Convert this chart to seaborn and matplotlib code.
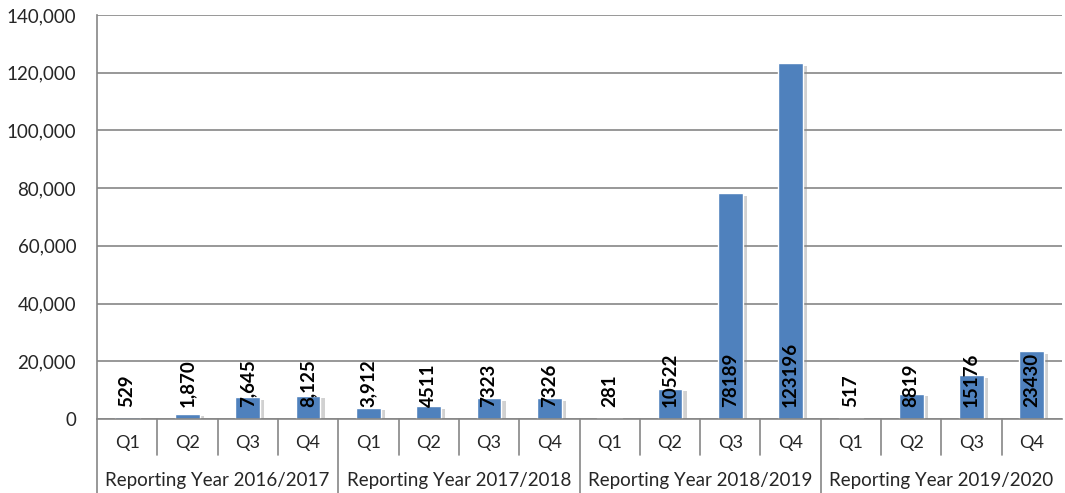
import matplotlib
matplotlib.use("Agg")
import matplotlib.pyplot as plt
import matplotlib.patheffects as pe
import matplotlib.transforms as mtrans
import seaborn as sns
import pandas as pd

# Data
years = ["Reporting Year 2016/2017", "Reporting Year 2017/2018",
         "Reporting Year 2018/2019", "Reporting Year 2019/2020"]
quarters = ["Q1", "Q2", "Q3", "Q4"]
values = [529, 1870, 7645, 8125,
          3912, 4511, 7323, 7326,
          281, 10522, 78189, 123196,
          517, 8819, 15176, 23430]
value_labels = ["529", "1,870", "7,645", "8,125",
                "3,912", "4511", "7323", "7326",
                "281", "10522", "78189", "123196",
                "517", "8819", "15176", "23430"]
y_ticks = [0, 20000, 40000, 60000, 80000, 100000, 120000, 140000]

df = pd.DataFrame({
    "period": [f"{y} {q}" for y in years for q in quarters],
    "value": values,
})

sns.set_style("white")
plt.rcParams["font.family"] = ["Lato", "DejaVu Sans"]

grid_col = "#868686"
bar_col = "#4F81BD"
txt_col = "#262626"

fig = plt.figure(figsize=(10.65, 4.93), dpi=100)
ax = fig.add_axes([0.0911, 0.1501, 0.9061, 0.8195])

sns.barplot(data=df, x="period", y="value", color=bar_col, width=0.41,
            saturation=1, ax=ax, zorder=3)
for p in ax.patches:
    p.set_path_effects([pe.SimplePatchShadow(offset=(3, -2), shadow_rgbFace="#8c8c8c", alpha=0.4),
                        pe.Normal()])

ax.set_xlim(-0.5, len(values) - 0.5)
ax.set_ylim(0, 140000)
ax.set_yticks(y_ticks)
ax.set_yticklabels([f"{v:,}" for v in y_ticks], fontsize=13.5, color=txt_col)
ax.yaxis.grid(True, color=grid_col, linewidth=1.2, zorder=0)
ax.set_axisbelow(True)
ax.tick_params(axis="y", length=5, width=1.2, color=grid_col, pad=10)
ax.set_xticks([])
ax.set_xlabel("")
ax.set_ylabel("")

for s in ["top", "right"]:
    ax.spines[s].set_visible(False)
for s in ["left", "bottom"]:
    ax.spines[s].set_color(grid_col)
    ax.spines[s].set_linewidth(1.2)
    ax.spines[s].set_zorder(4)

# value labels at base of bars
for i, lab in enumerate(value_labels):
    ax.annotate(lab, (i, 0), xytext=(0, 9), textcoords="offset points",
                rotation=90, ha="center", va="bottom", fontsize=13.5,
                fontweight="bold", color="black", zorder=5)

# two-level category axis
trans = mtrans.blended_transform_factory(ax.transData, ax.transAxes)
q_bottom = -0.0891
y_bottom = -0.185
for i in range(len(values)):
    ax.text(i, -0.0594, quarters[i % 4], transform=trans, ha="center",
            va="center", fontsize=13, color=txt_col)
for i in range(1, len(values)):
    lo = y_bottom if i % 4 == 0 else q_bottom
    ax.plot([i - 0.5, i - 0.5], [0, lo], transform=trans, color=grid_col,
            linewidth=1.2, clip_on=False)
ax.plot([-0.5, -0.5], [0, y_bottom], transform=trans, color=grid_col,
        linewidth=1.2, clip_on=False)
for j, yr in enumerate(years):
    ax.text(j * 4 + 1.5, -0.151, yr, transform=trans, ha="center",
            va="center", fontsize=13.5, color=txt_col)

fig.savefig("out.png", dpi=100)
